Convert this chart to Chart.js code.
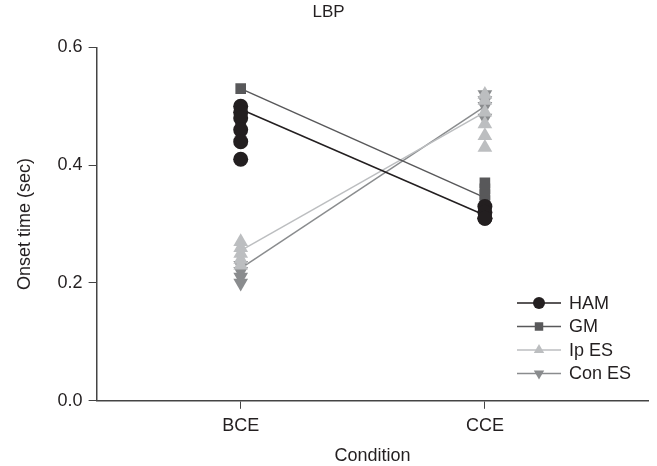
<!DOCTYPE html>
<html>
<head>
<meta charset="utf-8">
<script src="https://cdn.jsdelivr.net/npm/chart.js@4.4.1/dist/chart.umd.min.js"></script>
<style>
  html, body { margin: 0; padding: 0; background: #fff; }
</style>
</head>
<body>
<canvas id="myChart" width="657" height="466"></canvas>
<script>
// categories on the x axis (placed at x = 1 and x = 2)
const categories = ['BCE', 'CCE'];
const yTicks = [0.0, 0.2, 0.4, 0.6];

// individual onset times per muscle and condition
const hamBCE = [0.50, 0.49, 0.48, 0.46, 0.44, 0.41];
const hamCCE = [0.33, 0.32, 0.31, 0.31];
const gmBCE = [0.53, 0.49, 0.47];
const gmCCE = [0.37, 0.36, 0.35, 0.34];
const ipBCE = [0.27, 0.26, 0.25, 0.24, 0.23];
const ipCCE = [0.52, 0.51, 0.49, 0.47, 0.45, 0.43];
const conBCE = [0.23, 0.22, 0.21, 0.20];
const conCCE = [0.52, 0.51, 0.50, 0.48];

// group lines BCE -> CCE
const hamLine = [0.495, 0.315];
const gmLine = [0.53, 0.345];
const ipLine = [0.255, 0.49];
const conLine = [0.225, 0.50];

const series = [
    { name: 'HAM', bce: hamBCE, cce: hamCCE, line: hamLine, color: '#231f20', style: 'circle', r: 7.5 },
    { name: 'GM', bce: gmBCE, cce: gmCCE, line: gmLine, color: '#58585a', style: 'rect', r: 7.5 },
    { name: 'Ip ES', bce: ipBCE, cce: ipCCE, line: ipLine, color: '#bcbec0', style: 'triangle', r: 8.5 },
    { name: 'Con ES', bce: conBCE, cce: conCCE, line: conLine, color: '#8a8c8e', style: 'triangle', r: 8.5, rot: 180 }
];

const datasets = [];
series.forEach(s => {
    const pts = [];
    s.bce.forEach(v => pts.push({ x: 1, y: v }));
    s.cce.forEach(v => pts.push({ x: 2, y: v }));
    datasets.push({
        label: s.name,
        data: pts,
        showLine: false,
        pointStyle: s.style,
        pointRotation: s.rot || 0,
        pointRadius: s.r,
        pointBackgroundColor: s.color,
        pointBorderColor: s.color,
        pointBorderWidth: 0
    });
    datasets.push({
        label: s.name + ' line',
        data: s.line.map((v, i) => ({ x: i + 1, y: v })),
        showLine: true,
        borderColor: s.color,
        borderWidth: 1.5,
        pointRadius: 0
    });
});

const legendPlugin = {
    id: 'lineLegend',
    afterDraw(chart) {
        const ctx = chart.ctx;
        ctx.save();
        series.forEach((s, i) => {
            const y = 303 + i * 23.5;
            ctx.strokeStyle = s.color;
            ctx.lineWidth = 1.5;
            ctx.beginPath();
            ctx.moveTo(517, y);
            ctx.lineTo(561, y);
            ctx.stroke();
            ctx.fillStyle = s.color;
            Chart.helpers.drawPoint(ctx, {
                pointStyle: s.style,
                rotation: s.rot || 0,
                radius: 6,
                borderWidth: 0
            }, 539, y);
            ctx.fillStyle = '#231f20';
            ctx.font = '18px "Liberation Sans", Arial, sans-serif';
            ctx.textBaseline = 'middle';
            ctx.textAlign = 'left';
            ctx.fillText(s.name, 569, y + 1);
        });
        ctx.restore();
    }
};

const font = { family: '"Liberation Sans", Arial, sans-serif', size: 18 };

const chart = new Chart(document.querySelector('#myChart').getContext('2d'), {
    type: 'scatter',
    data: { datasets: datasets },
    plugins: [legendPlugin],
    options: {
        responsive: false,
        animation: false,
        layout: { padding: { left: 6, right: 6, top: 0, bottom: -1 } },
        plugins: {
            legend: { display: false },
            tooltip: { enabled: false },
            title: {
                display: true,
                text: 'LBP',
                color: '#231f20',
                font: { family: font.family, size: 17, weight: 'normal' },
                padding: { top: 2, bottom: 25 }
            }
        },
        scales: {
            x: {
                type: 'linear',
                min: 0.41,
                max: 2.67,
                afterBuildTicks: axis => { axis.ticks = [{ value: 1 }, { value: 2 }]; },
                ticks: {
                    color: '#231f20',
                    font: font,
                    padding: 6,
                    callback: v => categories[v - 1]
                },
                grid: { drawOnChartArea: false, drawTicks: true, tickLength: 8, color: '#444' },
                border: { display: true, color: '#444', width: 1.5 },
                title: { display: true, text: 'Condition', color: '#231f20', font: font, padding: { top: 3, bottom: 0 } }
            },
            y: {
                min: 0,
                max: 0.6,
                afterBuildTicks: axis => { axis.ticks = yTicks.map(v => ({ value: v })); },
                ticks: {
                    color: '#231f20',
                    font: font,
                    padding: 6,
                    callback: v => v.toFixed(1)
                },
                grid: { drawOnChartArea: false, drawTicks: true, tickLength: 8, color: '#444' },
                border: { display: true, color: '#444', width: 1.5 },
                title: { display: true, text: 'Onset time (sec)', color: '#231f20', font: font, padding: { top: 8, bottom: 16 } }
            }
        }
    }
});
</script>
</body>
</html>
